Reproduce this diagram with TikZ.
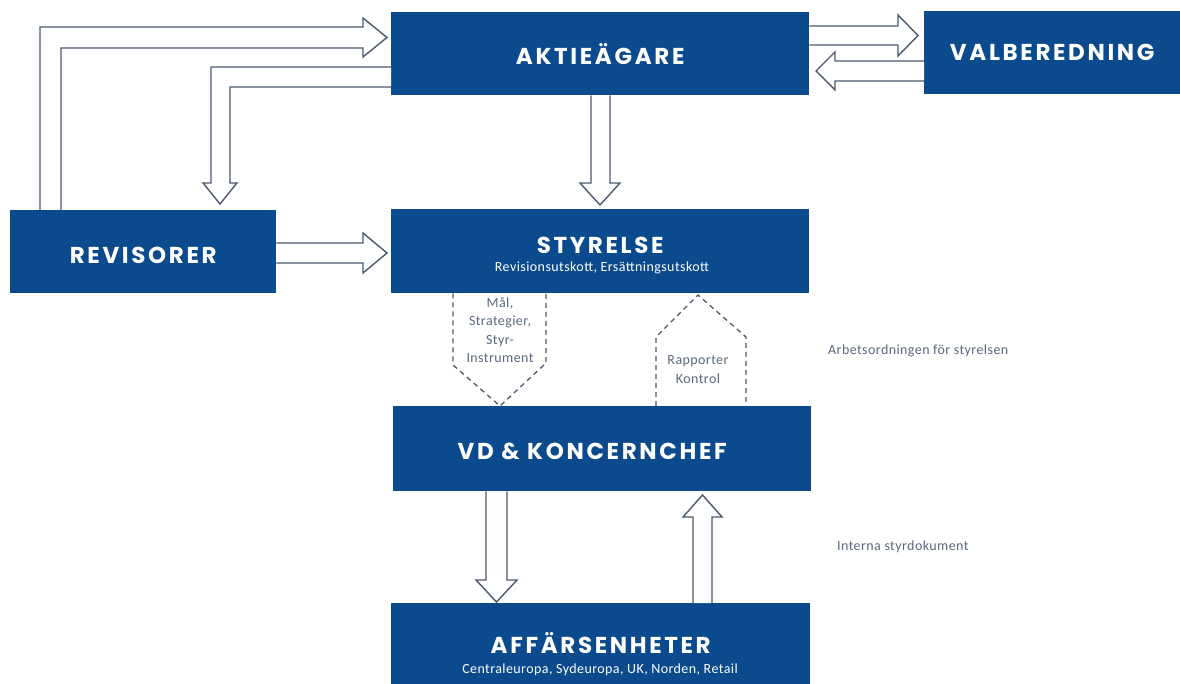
\documentclass[tikz,border=0pt]{standalone}
\usepackage{fontspec}
\setmainfont{Carlito}[LetterSpace=3]
\newfontfamily\titlefont{Poppins}[LetterSpace=11.5]
\usetikzlibrary{calc}
\definecolor{boxblue}{HTML}{0B4A8C}
\definecolor{arrowgrey}{HTML}{4A596E}
\definecolor{notegrey}{HTML}{5A687C}
\tikzset{
  box/.style={fill=boxblue, draw=none, inner sep=0pt, anchor=north west, text=white,
    font=\titlefont\bfseries\fontsize{23}{25}\selectfont, text height=16pt, text depth=0pt},
  hollow/.style={draw=arrowgrey, fill=white, line width=1.4pt, line join=miter},
  dashshape/.style={draw=arrowgrey, line width=1.3pt, dash pattern=on 5pt off 4pt},
  sub/.style={text=white, font=\fontsize{14}{15}\selectfont, inner sep=0pt},
  note/.style={text=notegrey, font=\fontsize{14}{18.5}\selectfont, inner sep=0pt, align=center}
}
\begin{document}
\begin{tikzpicture}[x=1pt,y=-1pt]
\useasboundingbox (0,0) rectangle (1180,684);
% boxes
\node[box, minimum width=418pt, minimum height=83pt, text height=21pt] (akt) at (391,12) {AKTIEÄGARE};
\node[box, minimum width=256pt, minimum height=83pt] (val) at (924,11) {VALBEREDNING};
\node[box, minimum width=266pt, minimum height=83pt, text height=23pt] (rev) at (10,210) {REVISORER};
\node[box, minimum width=418pt, minimum height=84pt, text depth=12pt] (sty) at (391,209) {STYRELSE};
\node[box, minimum width=418pt, minimum height=85pt, text height=21pt] (vd) at (393,406) {\hspace*{-20pt}VD \& KONCERNCHEF};
\node[box, minimum width=419pt, minimum height=82pt, text height=19pt] (aff) at (391,603) {AFFÄRSENHETER};
% subtitles
\node[sub] (stysub) at (602,268) {Revisionsutskott, Ersättningsutskott};
\node[sub] (affsub) at (600,670) {Centraleuropa, Sydeuropa, UK, Norden, Retail};
% hollow arrows
\draw[hollow] (rev.north -| 40,0) -- (40,27) -- (363,27) -- (363,18) -- (387,37.5) -- (363,57) -- (363,48) -- (61,48) -- (rev.north -| 61,0);
\draw[hollow] (akt.west |- 0,67) -- (211,67) -- (211,183) -- (203,183) -- (220,204) -- (237,183) -- (230,183) -- (230,87) -- (akt.west |- 0,87);
\draw[hollow] (akt.south -| 591,0) -- (591,183) -- (580,183) -- (600,205) -- (620,183) -- (610,183) -- (akt.south -| 610,0);
\draw[hollow] (akt.east |- 0,26) -- (898,26) -- (898,15) -- (918,35.5) -- (898,56) -- (898,45) -- (akt.east |- 0,45);
\draw[hollow] (val.west |- 0,61) -- (835,61) -- (835,52) -- (816,71) -- (835,90) -- (835,81) -- (val.west |- 0,81);
\draw[hollow] (rev.east |- 0,243) -- (363,243) -- (363,233) -- (387,253) -- (363,273) -- (363,263) -- (rev.east |- 0,263);
\draw[hollow] (vd.south -| 486,0) -- (486,580) -- (476,580) -- (496.5,602) -- (517,580) -- (507,580) -- (vd.south -| 507,0);
\draw[hollow] (aff.north -| 693,0) -- (693,517) -- (683,517) -- (702.5,495) -- (722,517) -- (712,517) -- (aff.north -| 712,0);
% dashed shapes
\draw[dashshape] (sty.south -| 453,0) -- (453,365) -- (500,406) -- (546,363) -- (sty.south -| 546,0);
\draw[dashshape] (vd.north -| 656,0) -- (656,337) -- (698,295) -- (746,337) -- (vd.north -| 746,0);
% notes
\node[note] (mal) at (500,330) {Mål,\\Strategier,\\Styr-\\Instrument};
\node[note] (rapp) at (698,369.5) {Rapporter\\Kontrol};
\node[note, anchor=west] (arb) at (828,351) {Arbetsordningen för styrelsen};
\node[note, anchor=west] (int) at (837,547) {Interna styrdokument};
\end{tikzpicture}
\end{document}
